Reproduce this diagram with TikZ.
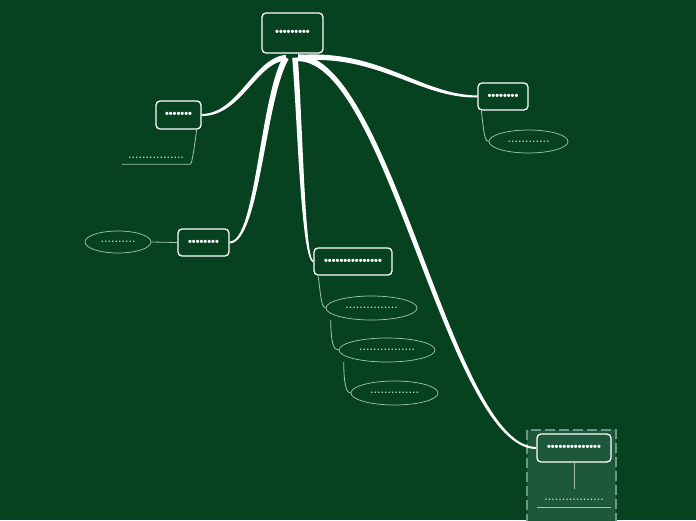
\documentclass[tikz,border=0pt]{standalone}
\usepackage{fontspec}
\setmainfont{DejaVu Sans}
\newfontfamily\labfont{Liberation Sans}
\usetikzlibrary{shapes.geometric,calc}
\definecolor{bg}{HTML}{064220}
\definecolor{grp}{HTML}{1E583C}
\definecolor{grpline}{HTML}{6A9A86}
\definecolor{subline}{HTML}{A6C2B0}
\definecolor{subtext}{HTML}{E0E8E2}
\pgfdeclarelayer{bglayer}
\pgfdeclarelayer{brlayer}
\pgfsetlayers{bglayer,brlayer,main}
\tikzset{
  topic/.style={draw=white, line width=1.3pt, rounded corners=4pt, fill=bg, text=white,
    font=\labfont\fontsize{11}{12}\selectfont\bfseries, inner sep=0pt},
  oval/.style={ellipse, draw=subline, line width=0.7pt, inner sep=0pt, text=subtext,
    font=\fontsize{11}{12}\selectfont},
  plainsub/.style={inner sep=0pt, text=subtext, font=\fontsize{11}{12}\selectfont},
  subconn/.style={draw=subline, line width=0.8pt},
  branch/.style={fill=white, draw=none}
}
\begin{document}
\begin{tikzpicture}[x=1pt,y=-1pt]
\useasboundingbox (0,0) rectangle (696,520);
% nodes
\node[topic, minimum width=61pt, minimum height=40pt] (root) at (292.5,33) {•••••••••};
\node[topic, minimum width=45pt, minimum height=28pt] (lt) at (178.5,115) {•••••••};
\node[topic, minimum width=50pt, minimum height=27pt] (rb) at (503,96.5) {••••••••};
\node[topic, minimum width=51pt, minimum height=27pt] (lm) at (203.5,242.5) {••••••••};
\node[topic, minimum width=78pt, minimum height=27pt] (mb) at (353,261.5) {•••••••••••••••};
\node[topic, fill=grp, minimum width=74pt, minimum height=28pt] (br) at (574,448) {••••••••••••••};
% sub topics
\node[plainsub, minimum width=68pt, minimum height=12pt] (ltsub) at (156,158) {................};
\node[oval, minimum width=79pt, minimum height=23pt] (rsub) at (528.5,141.5) {............};
\node[oval, minimum width=66pt, minimum height=22pt] (lsub) at (118,242) {..........};
\node[oval, minimum width=91pt, minimum height=24pt] (e1) at (371.5,308) {...............};
\node[oval, minimum width=96pt, minimum height=24pt] (e2) at (387,350) {................};
\node[oval, minimum width=87pt, minimum height=24pt] (e3) at (394.5,393) {..............};
\node[plainsub, minimum width=74pt, minimum height=14pt] (brsub) at (574,500) {.................};
% background and group
\begin{pgfonlayer}{bglayer}
\fill[bg] (0,0) rectangle (696,520);
\draw[grpline, fill=grp, line width=1.5pt, dash pattern=on 10pt off 4pt] (527,430) rectangle (616,530);
\end{pgfonlayer}
% main branches (tapered)
\begin{pgfonlayer}{brlayer}
\fill[branch] ($(root.south)+(-6.8,1.2)$) .. controls (253.2,58.3) and (238.7,113.5) .. ($(lt.east)+(0,-1)$)
  -- ($(lt.east)+(0,1)$) .. controls (241.3,116.5) and (256.8,61.7) .. ($(root.south)+(-6.2,6.8)$) -- cycle;
\fill[branch] ($(root.south)+(7.7,6.8)$) .. controls (379.3,54.4) and (419.3,98.4) .. ($(rb.west)+(0,1)$)
  -- ($(rb.west)+(0,-1)$) .. controls (420.7,94.6) and (380.7,49.6) .. ($(root.south)+(7.3,1.2)$) -- cycle;
\fill[branch] ($(root.south)+(-9.1,2.5)$) .. controls (259.3,99.5) and (255.9,241.4) .. ($(lm.east)+(0,-1)$)
  -- ($(lm.east)+(0,1)$) .. controls (260.1,242.6) and (264.7,100.5) .. ($(root.south)+(-3.9,5.5)$) -- cycle;
\fill[branch] ($(root.south)+(-0.3,4.2)$) .. controls (297.5,120.1) and (301,261.2) .. ($(mb.west)+(0,1)$)
  -- ($(mb.west)+(0,-1)$) .. controls (305,260.8) and (302.5,119.9) .. ($(root.south)+(5.3,3.8)$) -- cycle;
\fill[branch] ($(root.south)+(5.5,7.5)$) .. controls (387.1,61.3) and (447.7,449) .. ($(br.west)+(0,1)$)
  -- ($(br.west)+(0,-1)$) .. controls (452.3,447) and (392.9,58.7) .. ($(root.south)+(5.5,0.5)$) -- cycle;
\end{pgfonlayer}
% thin connectors
\draw[subconn] ($(lt.south east)+(-5,0)$) .. controls (194,150) and (192,164) .. (ltsub.south east) -- (ltsub.south west);
\draw[subconn] ($(rb.south west)+(4,0)$) .. controls (484,135) and (485,141.5) .. (rsub.west);
\draw[subconn] (lsub.east) -- (lm.west);
\draw[subconn] ($(mb.south west)+(5,1)$) .. controls (321,300) and (322,308) .. (e1.west);
\draw[subconn] ($(e1.west)+(5,12)$) .. controls (331,345) and (334,350) .. (e2.west);
\draw[subconn] ($(e2.west)+(5,12)$) .. controls (344,388) and (347,393) .. (e3.west);
\draw[subconn, shorten >=4pt] (br.south) -- (brsub.north);
\draw[subconn] (brsub.south west) -- (brsub.south east);
\end{tikzpicture}
\end{document}
